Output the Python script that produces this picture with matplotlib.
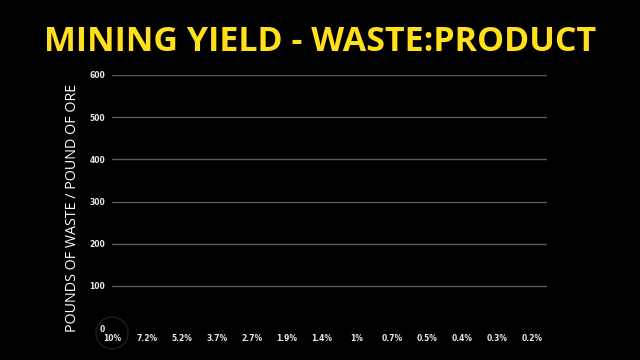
import matplotlib
matplotlib.use("Agg")
import matplotlib.pyplot as plt
from matplotlib.patches import Circle

# ore grade (yield) categories and visible bar heights (nothing drawn yet on the slide)
grades = ["10%", "7.2%", "5.2%", "3.7%", "2.7%", "1.9%", "1.4%",
          "1%", "0.7%", "0.5%", "0.4%", "0.3%", "0.2%"]
waste = [0, 0, 0, 0, 0, 0, 0, 0, 0, 0, 0, 0, 0]
yticks = [0, 100, 200, 300, 400, 500, 600]

title = "MINING YIELD - WASTE:PRODUCT"
ylabel = "POUNDS OF WASTE / POUND OF ORE"

fig = plt.figure(figsize=(6.4, 3.6), dpi=100, facecolor="black")
ax = fig.add_axes([112 / 640, 1 - 328 / 360, 435 / 640, 253 / 360])
ax.set_facecolor("black")

x = list(range(len(grades)))
ax.bar(x, waste, width=0.6, color="#f5e01a")

ax.set_ylim(0, 600)
ax.set_xlim(0, len(grades) - 0.57)
ax.set_yticks(yticks)
ax.set_yticklabels([str(v) for v in yticks])
ax.set_xticks(x)
ax.set_xticklabels(grades)

ax.yaxis.grid(True, color="#5a5a5a", linewidth=1)
ax.get_ygridlines()[0].set_visible(False)
ax.set_axisbelow(True)
for s in ax.spines.values():
    s.set_visible(False)
ax.tick_params(axis="both", length=0, colors="#e8e8e8", labelsize=5.5)
ax.tick_params(axis="y", pad=5)
ax.tick_params(axis="x", pad=4)
for lab in ax.get_yticklabels() + ax.get_xticklabels():
    lab.set_fontweight("bold")

ax.set_ylabel(ylabel, color="white", fontsize=10.3, fontfamily="Open Sans",
              va="center")
ax.yaxis.set_label_coords(-0.0897, 0.474)

fig.text(0.5, 1 - 42 / 360, title, color="#ffe01b", fontsize=24.5,
         fontweight="bold", fontfamily="Open Sans", ha="center", va="center")

# faint highlight ring around the first category
fig.patches.append(Circle((112, 360 - 333), 16, transform=None, fill=False,
                          edgecolor="#1e1e1e", linewidth=1))

fig.savefig("out.png", dpi=100, facecolor="black")
